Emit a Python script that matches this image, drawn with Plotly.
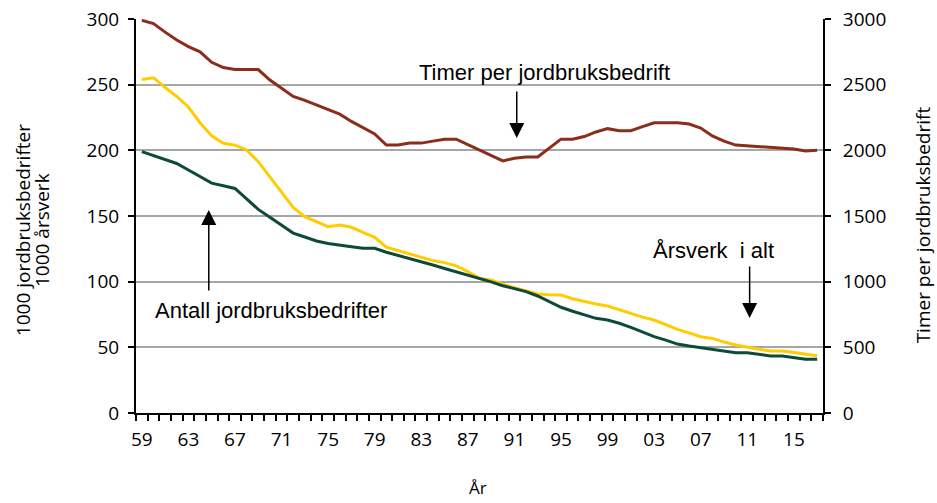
import plotly.graph_objects as go

years = list(range(1959, 2018))
tick_years = list(range(1959, 2017, 4))
tick_labels = [str(y)[-2:] for y in tick_years]

# 1000 jordbruksbedrifter
bedrifter = [199, 196, 193, 190, 185, 180, 175, 173, 171, 163,
             155, 149, 143, 137, 134, 131, 129, 128, 126.5, 125.4,
             125.4, 122.4, 120, 117.8, 115, 112.7, 110, 107.6, 105, 102.6,
             99.8, 96.9, 94.5, 92.4, 89.1, 84.5, 80.5, 77.5, 74.6, 72.1,
             70.8, 68.3, 65.2, 61.5, 58.1, 55.5, 52.5, 51, 49.7, 48.4,
             47.2, 45.9, 45.9, 44.5, 43.4, 43.4, 42, 40.9, 40.9]

# 1000 årsverk
arsverk = [254, 255.3, 248, 241, 233, 221, 211, 205.4, 204, 200.3,
           191.4, 180, 167.8, 156.6, 149.5, 145.5, 141.9, 143.2, 141.4, 137.5,
           133.8, 126.2, 123.5, 121.1, 118.5, 116, 114.5, 112, 107.6, 102.6,
           101.3, 98, 95.5, 93.1, 90.6, 90, 89.8, 87, 84.8, 83,
           81.5, 78.5, 75.4, 73, 70.8, 67, 63.7, 61, 58.1, 56.8,
           54, 51.8, 50, 48.5, 47.2, 47.2, 46, 44.7, 43.6]

# timer per jordbruksbedrift (right axis)
timer = [2990, 2965, 2900, 2840, 2790, 2750, 2670, 2630, 2615, 2615,
         2615, 2535, 2470, 2410, 2380, 2345, 2315, 2275, 2220, 2170,
         2125, 2040, 2040, 2055, 2055, 2070, 2085, 2085, 2045, 2000,
         1960, 1920, 1940, 1950, 1950, 2020, 2085, 2085, 2105, 2140,
         2165, 2150, 2150, 2180, 2210, 2210, 2210, 2200, 2170, 2110,
         2070, 2040, 2035, 2025, 2025, 2015, 2010, 1995, 2000]

fig = go.Figure()
fig.add_trace(go.Scatter(x=years, y=arsverk, mode="lines",
                         line=dict(color="#FFCC00", width=3), name="Årsverk i alt"))
fig.add_trace(go.Scatter(x=years, y=bedrifter, mode="lines",
                         line=dict(color="#0E4A3A", width=3), name="Antall jordbruksbedrifter"))
fig.add_trace(go.Scatter(x=years, y=timer, mode="lines", yaxis="y2",
                         line=dict(color="#8C2C1A", width=3), name="Timer per jordbruksbedrift"))

tick_font = dict(family="Open Sans, sans-serif", size=19, color="black")
title_font = dict(family="Open Sans, sans-serif", size=19, color="black")
label_font = dict(family="Liberation Sans, Arial, sans-serif", size=22, color="black")

fig.update_layout(
    width=937, height=503,
    margin=dict(l=136, r=114, t=19, b=90),
    plot_bgcolor="white", paper_bgcolor="white",
    showlegend=False,
    xaxis=dict(
        range=[1958.5, 2017.5], automargin=False,
        tickmode="array", tickvals=tick_years, ticktext=tick_labels,
        ticks="", tickfont=tick_font, ticklabelstandoff=8,
        showline=True, linecolor="black", linewidth=2,
        showgrid=False, zeroline=False,
        minor=dict(tick0=1958.5, dtick=1, ticks="outside", ticklen=6,
                   tickcolor="black", tickwidth=1.5, showgrid=False),
    ),
    yaxis=dict(
        range=[0, 300], tickvals=[0, 50, 100, 150, 200, 250, 300],
        automargin=False, ticklabeloverflow="allow", ticklabelstandoff=5,
        ticks="outside", ticklen=6, tickcolor="black", tickwidth=1.5,
        tickfont=tick_font,
        showline=True, linecolor="black", linewidth=2,
        showgrid=True, gridcolor="#A6A6A6", gridwidth=1.5, zeroline=False,
    ),
    yaxis2=dict(
        range=[0, 3000], tickvals=[0, 500, 1000, 1500, 2000, 2500, 3000],
        overlaying="y", side="right", automargin=False,
        ticklabeloverflow="allow", ticklabelstandoff=8,
        ticks="outside", ticklen=6, tickcolor="black", tickwidth=1.5,
        tickfont=tick_font,
        showline=True, linecolor="black", linewidth=2,
        showgrid=False, zeroline=False,
    ),
)

# axis titles
titles = [
    (-0.1645, 0.464, "1000 jordbruksbedrifter", -90, 19),
    (-0.137, 0.464, "1000 årsverk", -90, 19),
    (1.146, 0.477, "Timer per jordbruksbedrift", -90, 19),
    (0.498, -0.19, "År", 0, 17),
]
for tx, ty, txt, ang, size in titles:
    fig.add_annotation(x=tx, y=ty, xref="paper", yref="paper", text=txt,
                       textangle=ang, xanchor="center", yanchor="middle",
                       showarrow=False, font=dict(title_font, size=size))

# labels
fig.add_annotation(x=1993.6, y=259.6, text="Timer per jordbruksbedrift",
                   showarrow=False, font=label_font)
fig.add_annotation(x=1970.1, y=77.7, text="Antall jordbruksbedrifter",
                   showarrow=False, font=label_font)
fig.add_annotation(x=2008.1, y=123.4, text="Årsverk  i alt",
                   showarrow=False, font=label_font)

# arrows
arrows = [(1991.2, 209.4, 246), (1964.75, 154.6, 92.1), (2011.2, 72.3, 112.7)]
for ax_x, head_y, tail_y in arrows:
    fig.add_annotation(x=ax_x, y=head_y, ax=ax_x, ay=tail_y,
                       xref="x", yref="y", axref="x", ayref="y",
                       text="", showarrow=True, arrowhead=2, arrowsize=2,
                       arrowwidth=1.5, arrowcolor="black")

# drop the default page margin so the figure fills the window
fig.write_html("out.html", config={"displayModeBar": False},
               post_script="document.body.style.margin = '0';")
